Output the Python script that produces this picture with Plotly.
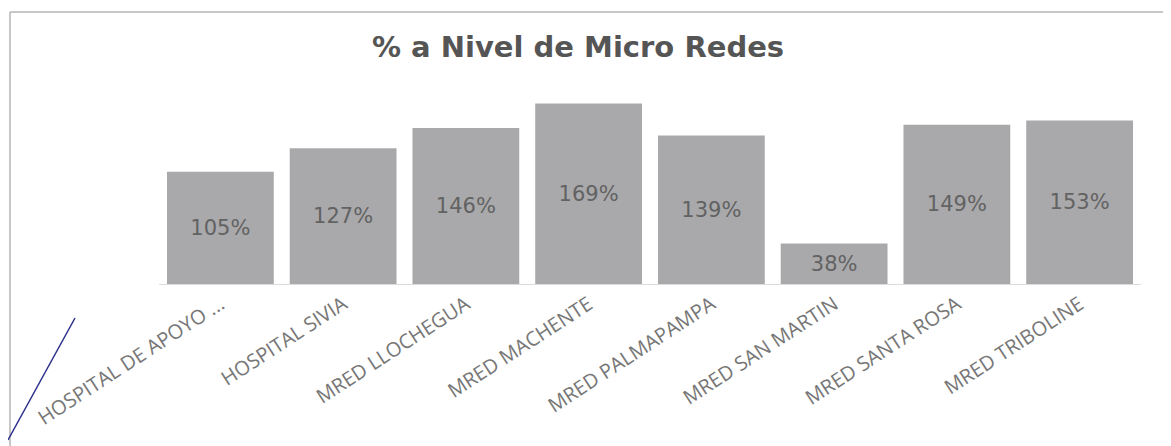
import plotly.graph_objects as go

categories = ["HOSPITAL DE APOYO ...", "HOSPITAL SIVIA", "MRED LLOCHEGUA", "MRED MACHENTE",
              "MRED PALMAPAMPA", "MRED SAN MARTIN", "MRED SANTA ROSA", "MRED TRIBOLINE"]
values = [105, 127, 146, 169, 139, 38, 149, 153]
labels = [f"{v}%" for v in values]

OFF = 8  # default page body margin
W, H = 1171 - OFF, 446 - OFF
# plot area in page pixels
PX0, PX1, PY0, PY1 = 159, 1141, 97, 284
L, R, T = PX0 - OFF, W - (PX1 - OFF), PY0 - OFF
B = H - (PY1 - OFF)
pw, ph = PX1 - PX0, PY1 - PY0

def px(x):
    return (x - PX0) / pw

def py(y):
    return (PY1 - y) / ph

fig = go.Figure(go.Bar(
    x=categories, y=values, text=labels,
    textposition="inside", insidetextanchor="middle",
    textfont=dict(family="DejaVu Sans", size=21, color="#626262"),
    marker=dict(color="#a9a9ab", line=dict(width=0)),
    cliponaxis=False,
))

fig.update_layout(
    width=W, height=H,
    margin=dict(l=L, r=R, t=T, b=B),
    paper_bgcolor="white", plot_bgcolor="white",
    bargap=0.13,
    showlegend=False,
    uniformtext=dict(mode=False),
    title=dict(text="<b>% a Nivel de Micro Redes</b>", x=(578 - OFF) / W, xanchor="center",
               y=1 - (47 - OFF) / H, yanchor="middle",
               font=dict(family="DejaVu Sans", size=29, color="#555555")),
    xaxis=dict(tickangle=-33, tickfont=dict(family="Open Sans", size=20, color="#777777"),
               showline=True, linecolor="#dcdcdc", linewidth=1, ticks="", showgrid=False),
    yaxis=dict(range=[0, 175], visible=False, showgrid=False),
    shapes=[
        dict(type="line", xref="paper", yref="paper",
             x0=px(10), x1=px(1175), y0=py(12), y1=py(12),
             line=dict(color="#b5b5b5", width=1.5)),
        dict(type="line", xref="paper", yref="paper",
             x0=px(10), x1=px(10), y0=py(12), y1=py(450),
             line=dict(color="#b5b5b5", width=1.5)),
        dict(type="line", xref="paper", yref="paper",
             x0=px(75), y0=py(318), x1=px(8), y1=py(440),
             line=dict(color="#2a2f8a", width=1.5)),
    ],
)

fig.write_html("out.html")
